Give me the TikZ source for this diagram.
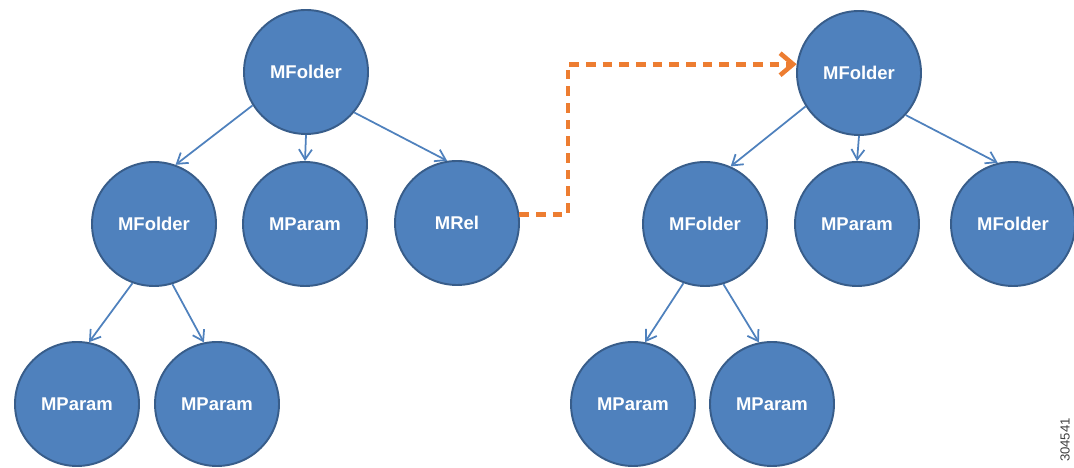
\documentclass[tikz,border=0pt]{standalone}
\usepackage{fontspec}
\setmainfont{Liberation Sans}
\usetikzlibrary{arrows.meta}
\definecolor{treefill}{RGB}{79,129,189}
\definecolor{treeline}{RGB}{56,93,138}
\definecolor{treeedge}{RGB}{79,129,189}
\definecolor{relorange}{RGB}{237,125,49}

\begin{document}
\begin{tikzpicture}[
    mnode/.style={circle, draw=treeline, line width=1.1pt, fill=treefill, minimum size=2.48cm, inner sep=0pt, text=white, font=\fontsize{10.5}{12}\selectfont\bfseries},
    child/.style={draw=treeedge, line width=1pt, -{Straight Barb[length=2mm,width=2.6mm]}},
    reflink/.style={draw=relorange, line width=2.6pt, dash pattern=on 5.5pt off 4pt, -{Straight Barb[length=2.6mm,width=4.4mm]}}
]
    \useasboundingbox (0,0) rectangle (21.48,9.36);

    % Left tree
    \node[mnode] (lroot) at (6.12,7.92) {MFolder};
    \node[mnode] (lfolder) at (3.08,4.88) {MFolder};
    \node[mnode] (lparam) at (6.10,4.88) {MParam};
    \node[mnode] (lrel) at (9.14,4.90) {MRel};
    \node[mnode] (lparamA) at (1.54,1.28) {MParam};
    \node[mnode] (lparamB) at (4.34,1.28) {MParam};

    \draw[child] (lroot.212) -- (lfolder.70);
    \draw[child] (lroot.270) -- (lparam.90);
    \draw[child] (lroot.320) -- (lrel.99);
    \draw[child] (lfolder.250) -- (lparamA.79);
    \draw[child] (lfolder.287) -- (lparamB.102);

    % Right tree
    \node[mnode] (rroot) at (17.18,7.90) {MFolder};
    \node[mnode] (rfolder) at (14.10,4.88) {MFolder};
    \node[mnode] (rparam) at (17.14,4.88) {MParam};
    \node[mnode] (rfolderB) at (20.26,4.88) {MFolder};
    \node[mnode] (rparamA) at (12.66,1.28) {MParam};
    \node[mnode] (rparamB) at (15.44,1.28) {MParam};

    \draw[child] (rroot.212) -- (rfolder.66);
    \draw[child] (rroot.270) -- (rparam.90);
    \draw[child] (rroot.318) -- (rfolderB.104);
    \draw[child] (rfolder.250) -- (rparamA.79);
    \draw[child] (rfolder.287) -- (rparamB.102);

    % Reference from MRel to the other tree
    \coordinate (bend) at (11.36,8.08);
    \draw[reflink] (lrel.8) -| (bend) |- (rroot.172);

    % Figure number
    \node[rotate=90, font=\fontsize{7.5}{9}\selectfont, text=black!75] (fignum) at (21.30,0.56) {304541};
\end{tikzpicture}
\end{document}
